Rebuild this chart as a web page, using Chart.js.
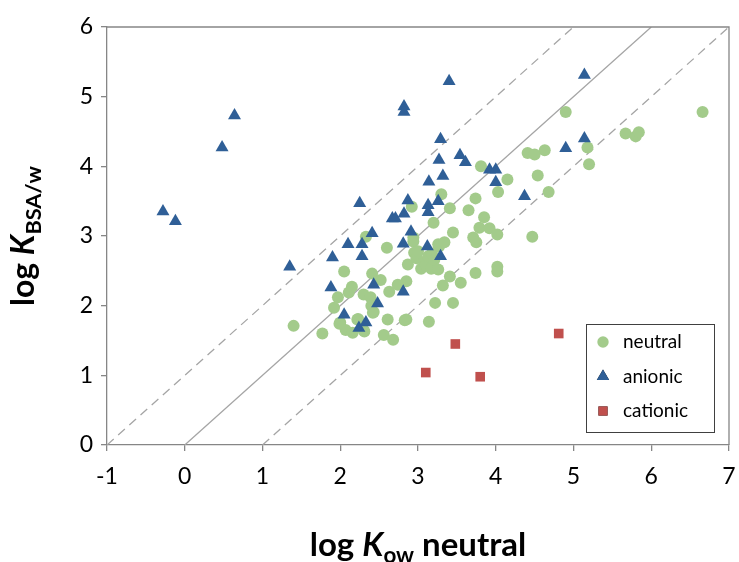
<!DOCTYPE html>
<html>
<head>
<meta charset="utf-8">
<script src="https://cdn.jsdelivr.net/npm/chart.js@4/dist/chart.umd.min.js"></script>
<style>
  html, body { margin: 0; padding: 0; background: #fff; }
  #wrap { width: 739px; height: 562px; position: relative; }
</style>
</head>
<body>
<div id="wrap"><canvas id="chart"></canvas></div>
<script>
// log Kow (neutral) vs log K BSA/w
const neutralX = [1.40, 1.77, 1.92, 1.97, 2.00, 2.05, 2.07, 2.11, 2.15, 2.16, 2.23, 2.30, 2.30, 2.33, 2.39,
  2.41, 2.43, 2.52, 2.56, 2.60, 2.61, 2.63, 2.68, 2.74, 2.85, 2.85, 2.87, 2.92, 2.94, 2.94, 2.95, 2.98,
  3.00, 3.04, 3.08, 3.10, 3.13, 3.14, 3.17, 3.18, 3.20, 3.21, 3.22, 3.26, 3.26, 3.27, 3.30, 3.32, 3.34,
  3.41, 3.41, 3.45, 3.45, 3.55, 3.65, 3.71, 3.74, 3.74, 3.75, 3.79, 3.81, 3.85, 3.92, 4.02, 4.02, 4.02,
  4.03, 4.15, 4.41, 4.47, 4.50, 4.54, 4.63, 4.68, 4.90, 5.18, 5.20, 5.67, 5.80, 5.84, 6.66,
  1.99, 2.22, 2.31, 2.42, 2.83, 2.40];
const neutralY = [1.71, 1.60, 1.97, 2.12, 1.76, 2.49, 1.65, 2.19, 2.27, 1.61, 1.81, 1.65, 2.16, 2.99, 2.12,
  2.46, 1.91, 2.37, 1.58, 2.83, 1.80, 2.20, 1.51, 2.30, 2.35, 1.80, 2.59, 3.42, 2.98, 2.92, 2.76, 2.68,
  2.78, 2.53, 2.62, 2.58, 2.71, 1.77, 2.53, 2.75, 3.19, 2.66, 2.04, 2.52, 2.88, 2.85, 3.60, 2.29, 2.91,
  3.40, 2.42, 3.05, 2.04, 2.33, 3.37, 2.98, 3.54, 2.47, 2.91, 3.12, 4.00, 3.27, 3.11, 3.02, 2.56, 2.49,
  3.63, 3.81, 4.19, 2.99, 4.17, 3.87, 4.23, 3.63, 4.78, 4.27, 4.03, 4.47, 4.43, 4.49, 4.78,
  1.74, 1.80, 1.63, 1.90, 1.79, 2.00];

const anionicX = [-0.28, -0.12, 0.48, 0.64, 1.35, 1.88, 1.90, 2.05, 2.10, 2.25, 2.24, 2.28, 2.28, 2.33,
  2.41, 2.43, 2.48, 2.67, 2.71, 2.82, 2.81, 2.81, 2.82, 2.82, 2.87, 2.91, 3.12, 3.13, 3.13, 3.14, 3.26,
  3.27, 3.29, 3.29, 3.32, 3.40, 3.54, 3.61, 3.92, 4.00, 4.00, 4.37, 4.90, 5.14, 5.14];
const anionicY = [3.35, 3.21, 4.27, 4.73, 2.56, 2.26, 2.69, 1.87, 2.88, 3.47, 1.68, 2.88, 2.71, 1.76,
  3.04, 2.30, 2.03, 3.25, 3.25, 3.32, 2.89, 2.20, 4.86, 4.78, 3.51, 3.06, 2.85, 3.44, 3.34, 3.78, 3.50,
  4.09, 4.39, 2.71, 3.86, 5.22, 4.16, 4.06, 3.95, 3.95, 3.77, 3.57, 4.26, 4.40, 5.31];

const cationicX = [3.10, 3.48, 3.80, 4.81];
const cationicY = [1.04, 1.45, 0.98, 1.60];

// reference lines: 1:1 and +/- one log unit
const lineOffsets = [0, 1, -1];

const xTicks = [-1, 0, 1, 2, 3, 4, 5, 6, 7];
const yTicks = [0, 1, 2, 3, 4, 5, 6];

const seriesLabels = ['neutral', 'anionic', 'cationic'];
const seriesColors = ['#a3cb8b', '#2f5f97', '#c0504d'];
const seriesStyles = ['circle', 'triangle', 'rect'];
const seriesRadius = [6, 7.5, 6.8];

const toPoints = (xs, ys) => xs.map((x, i) => ({ x: x, y: ys[i] }));

function refLine(offset) {
  // clip y = x + offset to the axis box
  const xMin = xTicks[0], xMax = xTicks[xTicks.length - 1];
  const yMin = yTicks[0], yMax = yTicks[yTicks.length - 1];
  const x0 = Math.max(xMin, yMin - offset);
  const x1 = Math.min(xMax, yMax - offset);
  return [{ x: x0, y: x0 + offset }, { x: x1, y: x1 + offset }];
}

const FONT = 'Lato, "Open Sans", sans-serif';
const AXIS_GREY = '#868686';

const lineSets = lineOffsets.map(off => ({
  type: 'line',
  label: 'line' + off,
  data: refLine(off),
  borderColor: '#a5a5a5',
  borderWidth: 1.3,
  borderDash: off === 0 ? [] : [9, 6],
  pointRadius: 0,
  fill: false,
  order: 10
}));

const scatterSets = [
  toPoints(neutralX, neutralY),
  toPoints(anionicX, anionicY),
  toPoints(cationicX, cationicY)
].map((pts, i) => ({
  type: 'scatter',
  label: seriesLabels[i],
  data: pts,
  pointStyle: seriesStyles[i],
  pointRadius: seriesRadius[i],
  pointHoverRadius: seriesRadius[i],
  backgroundColor: seriesColors[i],
  borderColor: seriesColors[i],
  borderWidth: 0,
  order: 3 - i
}));

// draws text with bold / italic / subscript pieces
function drawRich(ctx, parts, size) {
  let w = 0;
  parts.forEach(p => {
    const s = p.sub ? size * 0.68 : size;
    ctx.font = (p.italic ? 'italic ' : '') + 'bold ' + s + 'px ' + FONT;
    p.w = ctx.measureText(p.t).width;
    w += p.w;
  });
  let x = -w / 2;
  parts.forEach(p => {
    const s = p.sub ? size * 0.68 : size;
    ctx.font = (p.italic ? 'italic ' : '') + 'bold ' + s + 'px ' + FONT;
    ctx.fillText(p.t, x, p.sub ? size * 0.22 : 0);
    x += p.w;
  });
}

const extras = {
  id: 'extras',
  afterDraw(chart) {
    const ctx = chart.ctx;
    const a = chart.chartArea;
    ctx.save();

    // box round the plot
    ctx.strokeStyle = AXIS_GREY;
    ctx.lineWidth = 1.3;
    ctx.beginPath();
    ctx.moveTo(a.left, a.top);
    ctx.lineTo(a.right, a.top);
    ctx.lineTo(a.right, a.bottom);
    ctx.stroke();

    // axis titles
    ctx.fillStyle = '#000';
    ctx.textBaseline = 'alphabetic';
    ctx.save();
    ctx.translate((a.left + a.right) / 2, 556);
    drawRich(ctx, [{ t: 'log ' }, { t: 'K', italic: true }, { t: 'ow', sub: true }, { t: ' neutral' }], 33);
    ctx.restore();

    ctx.save();
    ctx.translate(34, (a.top + a.bottom) / 2);
    ctx.rotate(-Math.PI / 2);
    drawRich(ctx, [{ t: 'log ' }, { t: 'K', italic: true }, { t: 'BSA/w', sub: true }], 32);
    ctx.restore();

    // legend, bottom right inside the plot
    const bx = a.right - 143, by = a.bottom - 121, bw = 128, bh = 108;
    ctx.fillStyle = '#fff';
    ctx.fillRect(bx, by, bw, bh);
    ctx.strokeStyle = '#404040';
    ctx.lineWidth = 1;
    ctx.strokeRect(bx + 0.5, by + 0.5, bw, bh);
    ctx.font = '19px ' + FONT;
    ctx.textBaseline = 'middle';
    scatterSets.forEach((ds, i) => {
      const cy = by + 18 + i * 34.5;
      Chart.helpers.drawPoint(ctx, {
        pointStyle: ds.pointStyle,
        radius: ds.pointRadius * 0.95,
        rotation: 0,
        borderWidth: 0
      }, bx + 17, cy);
      ctx.fillStyle = ds.backgroundColor;
      ctx.fill();
      ctx.fillStyle = '#000';
      ctx.fillText(ds.label, bx + 37, cy);
    });
    ctx.restore();
  }
};

new Chart(document.getElementById('chart'), {
  data: { datasets: [...scatterSets, ...lineSets] },
  options: {
    responsive: true,
    maintainAspectRatio: false,
    animation: false,
    layout: { padding: { top: 27, right: 0, left: 0, bottom: 0 } },
    plugins: {
      legend: { display: false },
      tooltip: { enabled: false }
    },
    scales: {
      x: {
        type: 'linear',
        min: xTicks[0],
        max: xTicks[xTicks.length - 1],
        afterBuildTicks: s => { s.ticks = xTicks.map(v => ({ value: v })); },
        // fixed height, and keep the plot reaching close to the right edge
        afterFit: s => { s.height = 117; s.paddingRight = 10; s.paddingLeft = 0; },
        grid: { drawOnChartArea: false, drawTicks: true, tickLength: 6, color: AXIS_GREY, lineWidth: 1.3 },
        border: { color: AXIS_GREY, width: 1.3 },
        ticks: { color: '#000', font: { family: FONT, size: 23 }, padding: 12, maxRotation: 0 }
      },
      y: {
        type: 'linear',
        min: yTicks[0],
        max: yTicks[yTicks.length - 1],
        afterBuildTicks: s => { s.ticks = yTicks.map(v => ({ value: v })); },
        afterFit: s => { s.width = 107; },
        grid: { drawOnChartArea: false, drawTicks: true, tickLength: 6, color: AXIS_GREY, lineWidth: 1.3 },
        border: { color: AXIS_GREY, width: 1.3 },
        ticks: { color: '#000', font: { family: FONT, size: 23 }, padding: 8 }
      }
    }
  },
  plugins: [extras]
});
</script>
</body>
</html>
